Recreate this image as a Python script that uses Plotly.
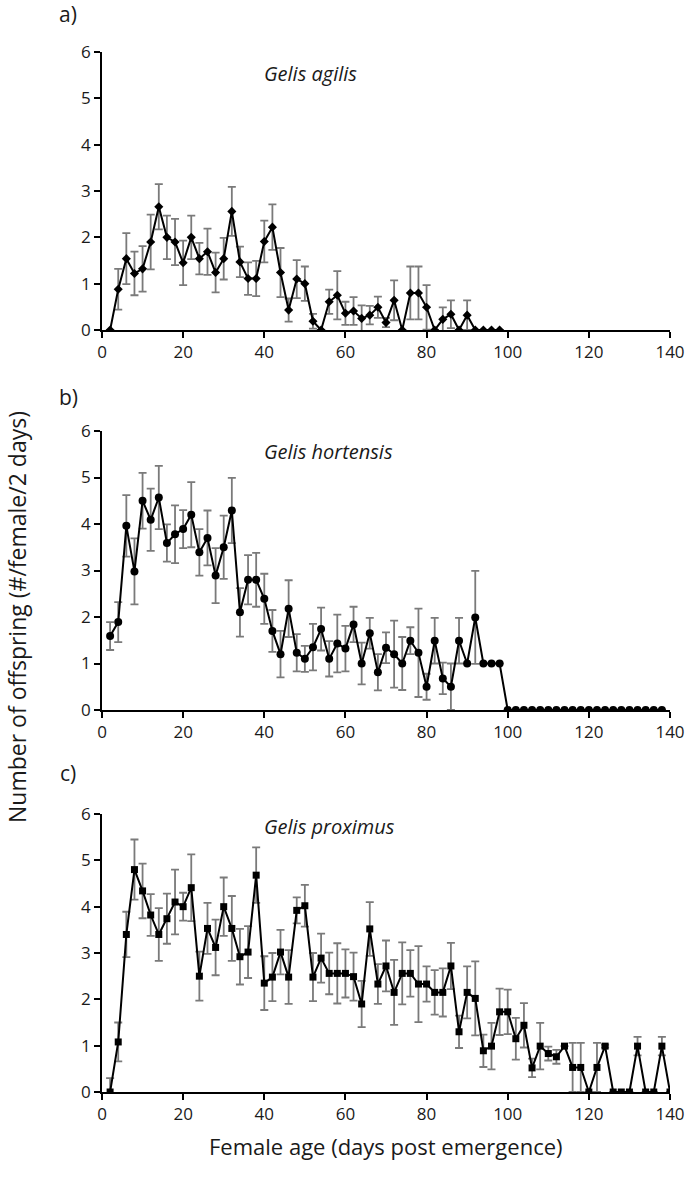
import plotly.graph_objects as go

# ---------------- data ----------------
days_a = list(range(2, 100, 2))
vals_a = [0, 0.88, 1.54, 1.22, 1.32, 1.90, 2.66, 2.00, 1.90, 1.45,
          2.00, 1.54, 1.69, 1.24, 1.54, 2.56, 1.47, 1.11, 1.11, 1.91,
          2.22, 1.24, 0.43, 1.10, 1.00, 0.19, 0, 0.61, 0.75, 0.36,
          0.41, 0.25, 0.32, 0.49, 0.16, 0.64, 0, 0.80, 0.80, 0.49,
          0, 0.23, 0.34, 0, 0.32, 0, 0, 0, 0]
err_a = [0, 0.44, 0.55, 0.47, 0.49, 0.59, 0.49, 0.47, 0.50, 0.48,
         0.47, 0.34, 0.50, 0.43, 0.45, 0.53, 0.33, 0.35, 0.38, 0.45,
         0.49, 0.53, 0.25, 0.41, 0.37, 0.16, 0, 0.26, 0.52, 0.25,
         0.30, 0.28, 0.20, 0.23, 0.10, 0.43, 0, 0.57, 0.57, 0.48,
         0, 0.26, 0.30, 0, 0.32, 0, 0, 0, 0]

days_b = list(range(2, 140, 2))
vals_b = [1.59, 1.89, 3.96, 2.98, 4.50, 4.09, 4.57, 3.59, 3.78, 3.89,
          4.20, 3.39, 3.70, 2.89, 3.50, 4.29, 2.10, 2.80, 2.80, 2.39,
          1.70, 1.20, 2.18, 1.23, 1.10, 1.35, 1.74, 1.10, 1.43, 1.32,
          1.84, 1.00, 1.65, 0.81, 1.34, 1.20, 1.00, 1.49, 1.23, 0.50,
          1.49, 0.68, 0.50, 1.49, 1.00, 1.99, 1.00, 1.00, 1.00,
          0, 0, 0, 0, 0, 0, 0, 0, 0, 0,
          0, 0, 0, 0, 0, 0, 0, 0, 0, 0]
err_b = [0.30, 0.43, 0.66, 0.71, 0.60, 0.67, 0.68, 0.40, 0.62, 0.41,
         0.70, 0.50, 0.59, 0.59, 0.68, 0.70, 0.52, 0.53, 0.58, 0.54,
         0.45, 0.50, 0.61, 0.40, 0.28, 0.50, 0.46, 0.38, 0.62, 0.49,
         0.38, 0.45, 0.33, 0.39, 0.33, 0.72, 0.57, 0.29, 0.95, 0.28,
         0.49, 0.34, 0.50, 0.49, 0, 1.00, 0, 0, 0,
         0, 0, 0, 0, 0, 0, 0, 0, 0, 0,
         0, 0, 0, 0, 0, 0, 0, 0, 0, 0]

days_c = list(range(2, 142, 2))
vals_c = [0, 1.08, 3.40, 4.80, 4.34, 3.82, 3.40, 3.74, 4.10, 4.00,
          4.41, 2.50, 3.53, 3.12, 4.00, 3.53, 2.92, 3.02, 4.68, 2.35,
          2.48, 3.02, 2.48, 3.92, 4.02, 2.48, 2.89, 2.56, 2.56, 2.56,
          2.49, 1.90, 3.52, 2.33, 2.72, 2.15, 2.56, 2.56, 2.33, 2.33,
          2.15, 2.15, 2.72, 1.30, 2.15, 2.02, 0.89, 0.99, 1.73, 1.73,
          1.15, 1.44, 0.52, 0.99, 0.83, 0.76, 0.99, 0.53, 0.53, 0,
          0.53, 0.99, 0, 0, 0, 0.99, 0, 0, 0.99, 0]
err_c = [0.30, 0.42, 0.49, 0.65, 0.59, 0.45, 0.57, 0.54, 0.70, 0.30,
         0.72, 0.53, 0.55, 0.60, 0.63, 0.70, 0.60, 0.56, 0.60, 0.58,
         0.52, 0.48, 0.58, 0.28, 0.45, 0.52, 0.53, 0.45, 0.65, 0.52,
         0.52, 0.50, 0.58, 0.43, 0.55, 0.70, 0.67, 0.50, 0.82, 0.38,
         0.48, 0.52, 0.50, 0.35, 0.56, 0.80, 0.35, 0.50, 0.50, 0.48,
         0.45, 0.48, 0.20, 0.50, 0.15, 0.15, 0, 0.53, 0.53, 0,
         0.53, 0.03, 0, 0, 0, 0.20, 0, 0, 0.20, 0]

panel_letters = ["a)", "b)", "c)"]
species = ["Gelis agilis", "Gelis hortensis", "Gelis proximus"]
x_ticks = [0, 20, 40, 60, 80, 100, 120, 140]
y_ticks = [0, 1, 2, 3, 4, 5, 6]
x_title = "Female age (days post emergence)"
y_title = "Number of offspring (#/female/2 days)"

# ---------------- layout geometry ----------------
W, H = 685, 1187
L, R, T, B = 102, 15, 52, 95
pw, ph = W - L - R, H - T - B


def px_x(px):
    return (px - L) / pw


def px_y(py):
    return (H - B - py) / ph


domains = [[px_y(330), 1.0], [px_y(710), px_y(431)], [0.0, px_y(814)]]
letter_y = [14, 397, 773]
species_y = [73, 452, 826]
symbols = ["diamond", "circle", "square"]
msizes = [7, 8, 7]

FONT = "Open Sans, Lato, DejaVu Sans, sans-serif"
fig = go.Figure()

series = [(days_a, vals_a, err_a), (days_b, vals_b, err_b), (days_c, vals_c, err_c)]
for i, (d, v, e) in enumerate(series):
    sfx = "" if i == 0 else str(i + 1)
    fig.add_trace(go.Scatter(
        x=d, y=v, mode="lines+markers",
        line=dict(color="black", width=2),
        marker=dict(symbol=symbols[i], size=msizes[i], color="black"),
        error_y=dict(type="data", array=e, visible=True, color="#7a7a7a",
                     thickness=1.8, width=4),
        xaxis="x" + sfx, yaxis="y" + sfx, showlegend=False,
    ))
    axis_common = dict(showline=True, linecolor="black", linewidth=1.5,
                       ticks="outside", ticklen=6, tickwidth=1.5, tickcolor="black",
                       showgrid=False, zeroline=False, automargin=False,
                       tickfont=dict(family=FONT, size=17, color="#1a1a1a"))
    fig.layout["xaxis" + sfx] = dict(axis_common, range=[0, 140], tickvals=x_ticks,
                                     anchor="y" + sfx, domain=[0, 1])
    fig.layout["yaxis" + sfx] = dict(axis_common, range=[0, 6], tickvals=y_ticks,
                                     anchor="x" + sfx, domain=domains[i])
    fig.add_annotation(text=panel_letters[i], xref="paper", yref="paper",
                       x=px_x(68), y=px_y(letter_y[i]), showarrow=False,
                       xanchor="center", yanchor="middle",
                       font=dict(family=FONT, size=21, color="#1a1a1a"))
    fig.add_annotation(text="<i>" + species[i] + "</i>", xref="paper", yref="paper",
                       x=px_x(262), y=px_y(species_y[i]), showarrow=False,
                       xanchor="left", yanchor="middle",
                       font=dict(family=FONT, size=20, color="#1a1a1a"))

fig.add_annotation(text=x_title, xref="paper", yref="paper",
                   x=px_x(386), y=px_y(1146), showarrow=False,
                   xanchor="center", yanchor="middle",
                   font=dict(family=FONT, size=22, color="#1a1a1a"))
fig.add_annotation(text=y_title, xref="paper", yref="paper",
                   x=px_x(17), y=px_y(617), showarrow=False, textangle=-90,
                   xanchor="center", yanchor="middle",
                   font=dict(family=FONT, size=23, color="#1a1a1a"))

fig.update_layout(width=W, height=H, autosize=False,
                  margin=dict(l=L, r=R, t=T, b=B, autoexpand=False),
                  paper_bgcolor="white", plot_bgcolor="white")
fig.write_html("out.html",
               config={"displayModeBar": False, "responsive": False},
               post_script="document.body.style.margin='0';"
                           "document.body.style.overflow='hidden';")
